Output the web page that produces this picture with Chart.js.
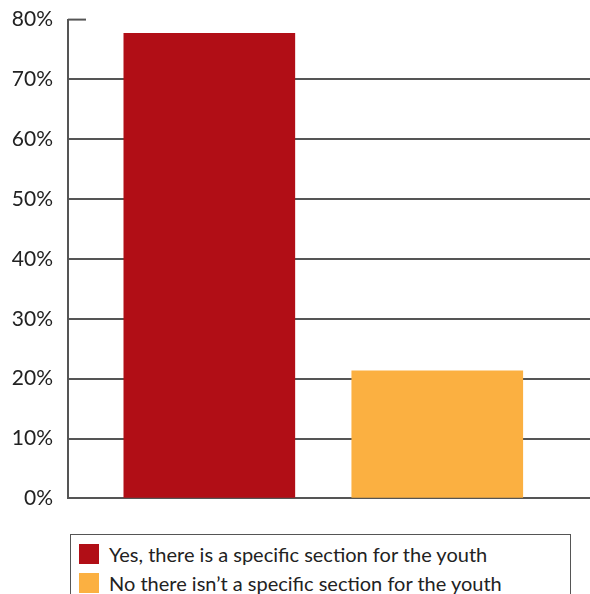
<!DOCTYPE html>
<html lang="en">
<head>
<meta charset="utf-8">
<title>Youth section</title>
<script src="https://cdn.jsdelivr.net/npm/chart.js"></script>
<style>
  body { margin: 0; background: #fff; font-family: Lato, sans-serif; }
  #wrap { position: relative; width: 590px; height: 594px; overflow: hidden; }
  #box { position: absolute; left: 0; top: -8px; width: 590px; height: 534px; }
  #legend { position: absolute; left: 70px; top: 534px; width: 501px; height: 80px;
            border: 1px solid #555; box-sizing: border-box; padding: 4px 0 0 8px; }
  .item { display: flex; align-items: center; height: 29px; font-size: 20px; color: #222; }
  .sw { width: 20px; height: 20px; margin-right: 10px; flex: none; }
</style>
</head>
<body>
<div id="wrap">
  <div id="box"><canvas id="myChart"></canvas></div>
  <div id="legend"></div>
</div>
<script>
const categories = ['Yes, there is a specific section for the youth', 'No there isn\u2019t a specific section for the youth'];
const positions = [1, 2];
const shares = [77.7, 21.3];
const colors = ['#B10E16', '#FBB041'];

// short tick at the top of the axis instead of a full gridline
const topTick = {
	id: 'topTick',
	beforeDatasetsDraw(chart) {
		const y = chart.scales.y;
		const ctx = chart.ctx;
		const py = y.getPixelForValue(y.max);
		ctx.save();
		ctx.strokeStyle = '#555';
		ctx.lineWidth = 2;
		ctx.beginPath();
		ctx.moveTo(chart.chartArea.left, py);
		ctx.lineTo(chart.chartArea.left + 18, py);
		ctx.stroke();
		ctx.restore();
	}
};

const myChart = new Chart(document.getElementById('myChart'), {
	type: 'bar',
	data: {
		datasets: categories.map((c, i) => ({
			label: c,
			data: [{ x: positions[i], y: shares[i] }],
			backgroundColor: colors[i],
			borderWidth: 0,
			barThickness: 171
		}))
	},
	options: {
		responsive: true,
		maintainAspectRatio: false,
		animation: false,
		layout: { padding: { top: 0, right: 0, bottom: 17, left: 0 } },
		plugins: {
			legend: { display: false },
			tooltip: { enabled: false }
		},
		scales: {
			x: {
				type: 'linear',
				display: false,
				stacked: true,
				offset: false,
				min: 0.38,
				max: 2.67
			},
			y: {
				min: 0,
				max: 80,
				afterFit(scale) { scale.width = 68; },
				border: { display: true, color: '#555', width: 2 },
				grid: {
					drawTicks: false,
					lineWidth: 2,
					color: (c) => c.tick && c.tick.value === 80 ? 'rgba(0,0,0,0)' : '#555'
				},
				ticks: {
					stepSize: 10,
					padding: 15,
					color: '#222',
					font: { family: 'Lato', size: 21 },
					callback: (v) => v + '%'
				}
			}
		}
	},
	plugins: [topTick]
});

const legend = document.getElementById('legend');
myChart.data.datasets.forEach(function(ds) {
	const row = document.createElement('div');
	row.className = 'item';
	row.innerHTML = '<span class="sw" style="background:' + ds.backgroundColor + '"></span><span>' + ds.label + '</span>';
	legend.appendChild(row);
});
</script>
</body>
</html>
